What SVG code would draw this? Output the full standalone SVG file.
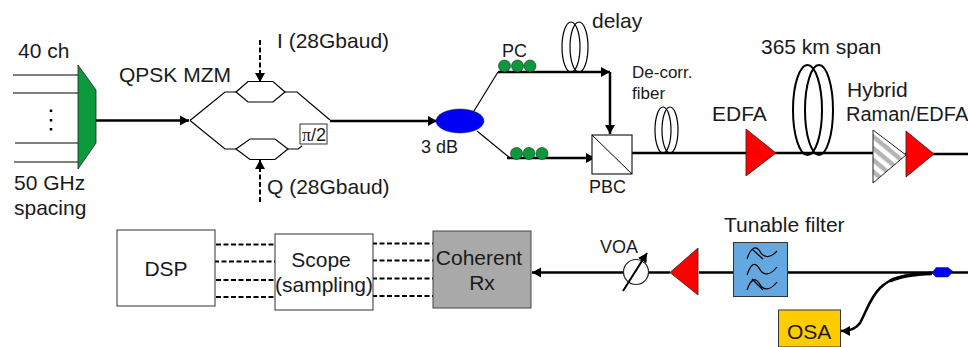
<svg xmlns="http://www.w3.org/2000/svg" width="968" height="347" viewBox="0 0 968 347">
<defs>
<marker id="ah" markerUnits="userSpaceOnUse" markerWidth="12" markerHeight="12" refX="9" refY="6" orient="auto"><path d="M0 1L9 6L0 11Z" fill="#000"/></marker>
<pattern id="hatch" width="9" height="9" patternUnits="userSpaceOnUse" patternTransform="rotate(40)"><rect width="9" height="9" fill="#fff"/><rect width="9" height="4.500" fill="#b4b4b4"/></pattern>
</defs>
<style>
text{font-family:"Liberation Sans",Arial,sans-serif;font-size:21px;fill:#1a1a1a}
.s{font-size:18px}
.xs{font-size:17px}
.w{fill:none;stroke:#000;stroke-width:1.200}
.t{fill:none;stroke:#000;stroke-width:2.500}
.d{fill:none;stroke:#000;stroke-width:2;stroke-dasharray:5 2.500}
.pc{fill:#0b9a3b;stroke:#222;stroke-width:.6}
.amp{fill:#f00;stroke:#222;stroke-width:.8}
</style>
<g id="connectors">
<path class="w" d="M13 75H78M13 93H78M15 143H78M14 162H78"/>
<path class="t" d="M96 120.500H189" marker-end="url(#ah)"/>
<path class="w" d="M190 120.500L225 92H236M190 120.500L225 149H236M285 92H297L330 120M288 149H298L302 146"/>
<path class="t" d="M330 121H437" marker-end="url(#ah)"/>
<path class="w" d="M474 111L498 72M477 131L510 158"/>
<path class="t" d="M498 72H610" marker-end="url(#ah)"/>
<path class="t" d="M610 72V134" marker-end="url(#ah)"/>
<path class="t" d="M507 158H595" marker-end="url(#ah)"/>
<path class="t" d="M632 153H746M775 153H873M905 154H968"/>
<path class="t" d="M968 272.500H699M670 272.500H648"/>
<path class="t" d="M624 272.500H532" marker-end="url(#ah)"/>
<path class="d" d="M260 40V82" marker-end="url(#ah)"/>
<path class="d" d="M260 202V160" marker-end="url(#ah)"/>
<path class="d" d="M216 244.500H275M214 261.500H275M216 280H275M216 297H275M372 243.500H433M372 260.500H433M372 278.500H433M372 296H433"/>
<path class="t" d="M932 273C905 274 890 278 880 288C870 298 866 312 860 323C856 329 850 331 841 331" marker-end="url(#ah)"/>
<path class="t" d="M932 273.500C915 274 900 276 890 281" style="stroke-width:3.500"/>
</g>
<g id="mux"><path d="M78 65L96 90V143L78 169Z" fill="#0b9a3b" stroke="#222" stroke-width=".8"/></g>
<g id="dots"><path d="M51 109.500V112M51 119V121.500M51 128V130.500" stroke="#000" stroke-width="2.500" fill="none"/></g>
<g id="mzm-i"><path class="w" d="M236 92L248 81.500H273L285 92L273 102H248Z"/></g>
<g id="mzm-q"><path class="w" d="M236 149L250 139H275L288 149L275 159.500H250Z"/></g>
<g id="phase"><rect x="300" y="124" width="27" height="20" fill="#fff" stroke="#333"/><text x="302" y="141" class="s"><tspan font-family="Liberation Serif">π</tspan>/2</text></g>
<g id="coupler"><ellipse cx="460" cy="121" rx="24" ry="12" fill="#0000f5" stroke="#222" stroke-width=".5"/></g>
<g id="pc1"><circle class="pc" cx="504.500" cy="66" r="6"/><circle class="pc" cx="517.500" cy="66" r="6"/><circle class="pc" cx="530" cy="66" r="6"/></g>
<g id="pc2"><circle class="pc" cx="516.500" cy="153.500" r="6"/><circle class="pc" cx="529" cy="153.500" r="6"/><circle class="pc" cx="542" cy="153.500" r="6"/></g>
<g id="delay"><ellipse class="w" cx="571" cy="47" rx="9" ry="25"/><ellipse class="w" cx="579" cy="47" rx="9" ry="25"/></g>
<g id="pbc"><rect x="592" y="135" width="40" height="39" fill="#fff" stroke="#222" stroke-width="1.200"/><path d="M592 135L632 174" stroke="#000" fill="none"/></g>
<g id="decorr"><ellipse class="w" cx="663" cy="130" rx="8" ry="23"/><ellipse class="w" cx="670" cy="130" rx="8" ry="23"/></g>
<g id="edfa1"><path class="amp" d="M746 129L776 153L746 176Z"/></g>
<g id="span"><ellipse cx="807.500" cy="110" rx="14.500" ry="45" fill="none" stroke="#000" stroke-width="2"/><ellipse cx="819" cy="110" rx="14" ry="45" fill="none" stroke="#000" stroke-width="2"/></g>
<g id="raman"><path d="M873 130L906 155L873 183Z" fill="url(#hatch)" stroke="#222"/></g>
<g id="edfa2"><path class="amp" d="M906 131L934 154L906 177Z"/></g>
<g id="tap"><path d="M932 273L936 267.500H948L953 271.500L948 277H936Z" fill="#0000f5" stroke="#222" stroke-width=".5"/></g>
<g id="tf"><rect x="733.500" y="242.500" width="54" height="54" fill="#64a8e2" stroke="#333"/><path class="w" d="M747 259C750 249 755 245 759 250C763 258 770 259 777 251M747 275C751 263 755 262 759 268C763 276 770 276 777 267M747 290C751 279 755 277 759 283C763 291 770 291 777 282M752 249L763 259M752 279L763 290"/></g>
<g id="amp3"><path class="amp" d="M698 248L670 272.500L698 295Z"/></g>
<g id="voa"><circle cx="636" cy="272" r="12.500" fill="#fff" stroke="#222" stroke-width="1.200"/><path d="M623 291L647 253" fill="none" stroke="#000" stroke-width="2" marker-end="url(#ah)"/></g>
<g id="osa"><rect x="778.500" y="310" width="62" height="37" fill="#fc0" stroke="#333"/><text x="787" y="339">OSA</text></g>
<g id="rx"><rect x="433" y="231" width="98" height="77" fill="#a9a9a9" stroke="#444"/><text x="479" y="265" text-anchor="middle">Coherent</text><text x="482" y="290" text-anchor="middle">Rx</text></g>
<g id="scope"><rect x="275" y="234" width="98" height="76" fill="#fff" stroke="#333"/><text x="321" y="267" text-anchor="middle">Scope</text><text x="324" y="292" text-anchor="middle">(sampling)</text></g>
<g id="dsp"><rect x="117" y="230" width="98" height="76" fill="#fff" stroke="#333"/><text x="166" y="276" text-anchor="middle">DSP</text></g>
<g id="labels">
<text x="18" y="58">40 ch</text><text x="14" y="190">50 GHz</text><text x="14" y="215">spacing</text>
<text x="119" y="82">QPSK MZM</text><text x="277" y="48">I (28Gbaud)</text><text x="267" y="194">Q (28Gbaud)</text>
<text x="502" y="57" class="s">PC</text><text x="592" y="28">delay</text><text x="421" y="153" class="s">3 dB</text><text x="589" y="193" class="s">PBC</text>
<text x="632" y="78" class="xs">De-corr.</text><text x="632" y="99" class="xs">fiber</text>
<text x="712" y="121">EDFA</text><text x="761" y="54">365 km span</text><text x="847" y="97">Hybrid</text><text x="846" y="121" style="font-size:20px">Raman/EDFA</text>
<text x="724" y="232">Tunable filter</text><text x="600" y="253" class="s">VOA</text>
</g>
</svg>
